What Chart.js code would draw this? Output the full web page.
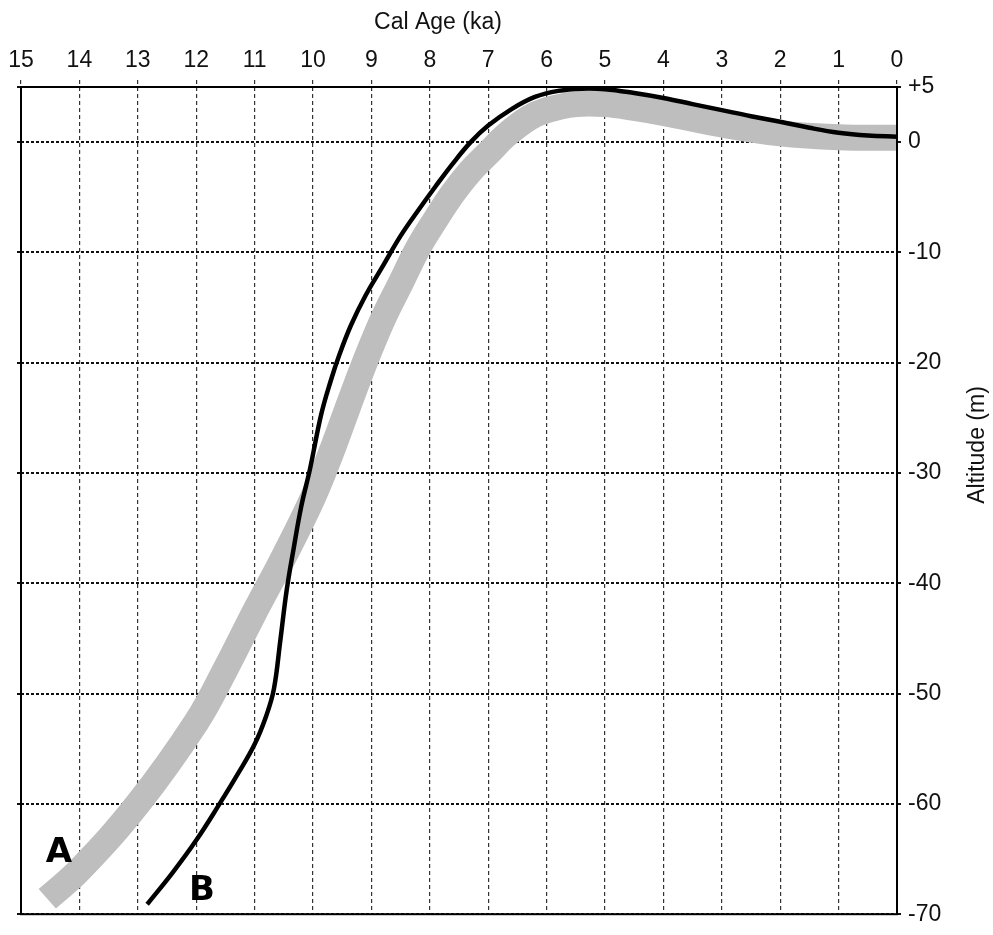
<!DOCTYPE html>
<html><head><meta charset="utf-8">
<script src="https://cdn.jsdelivr.net/npm/chart.js@4.4.1/dist/chart.umd.min.js"></script>
<style>html,body{margin:0;padding:0;background:#fff;}canvas{display:block;}</style>
</head><body>
<canvas id="c" width="993" height="935"></canvas>
<script>
// ---- data ----
const xTickValues = [15,14,13,12,11,10,9,8,7,6,5,4,3,2,1,0];
const yTickValues = [5,0,-10,-20,-30,-40,-50,-60,-70];
const curveA_age = [14.55,14.0,13.0,12.0,11.5,11.0,10.5,10.0,9.7,9.4,9.1,8.8,8.5,8.2,7.9,7.6,7.3,7.0,6.7,6.3,6.0,5.5,5.0,4.5,4.0,3.0,2.0,1.0,0.0];
const curveA_alt = [-68.6,-66.0,-60.0,-52.6,-47.8,-42.6,-37.6,-32.2,-28.3,-24.0,-19.8,-16.0,-12.8,-9.6,-7.0,-4.6,-2.6,-1.0,0.6,2.2,2.9,3.45,3.45,3.1,2.65,1.6,0.8,0.45,0.4];
const curveB_age = [12.84,12.4,12.0,11.6,11.3,11.0,10.8,10.67,10.56,10.45,10.33,10.2,10.05,9.86,9.7,9.55,9.35,9.1,8.8,8.5,8.2,7.9,7.6,7.3,7.0,6.6,6.2,5.8,5.4,5.0,4.5,4.0,3.5,3.0,2.5,2.0,1.5,1.0,0.5,0.0];
const curveB_alt = [-69.1,-66.2,-63.3,-60.0,-57.4,-54.6,-52.0,-49.6,-45.2,-40.6,-36.8,-33.0,-29.6,-24.7,-21.7,-19.3,-16.6,-13.9,-11.2,-8.5,-6.2,-4.0,-1.9,0.0,1.5,3.0,4.1,4.65,4.85,4.8,4.45,4.0,3.45,2.9,2.35,1.85,1.3,0.85,0.6,0.5];
const curveLabels = ['A','B'];
const curveLabelAge = [14.35, 11.9];
const curveLabelAlt = [-64.5, -67.9];
const xAxisTitle = 'Cal Age (ka)';
const yAxisTitle = 'Altitude (m)';

const toPts = (xs, ys) => xs.map((x, i) => ({x: x, y: ys[i]}));

Chart.defaults.font.family = '"Liberation Sans", Arial, sans-serif';
Chart.defaults.color = '#111';

const frameAndText = {
  id: 'frameAndText',
  afterDraw(chart) {
    const ctx = chart.ctx, a = chart.chartArea;
    ctx.save();
    ctx.strokeStyle = '#000';
    ctx.lineWidth = 2;
    ctx.strokeRect(a.left, a.top, a.right - a.left, a.bottom - a.top);
    ctx.fillStyle = '#111';
    ctx.font = '23px "Liberation Sans", Arial, sans-serif';
    ctx.textAlign = 'center';
    ctx.textBaseline = 'middle';
    ctx.fillText(xAxisTitle, 438, 23);
    ctx.translate(978, 445);
    ctx.rotate(-Math.PI / 2);
    ctx.fillText(yAxisTitle, 0, 0);
    ctx.restore();
    ctx.save();
    ctx.fillStyle = '#000';
    ctx.font = 'bold 34px "DejaVu Sans", sans-serif';
    ctx.textAlign = 'center';
    ctx.textBaseline = 'middle';
    const xs = chart.scales.x, ys = chart.scales.y;
    curveLabels.forEach((t, i) => {
      ctx.fillText(t, xs.getPixelForValue(curveLabelAge[i]), ys.getPixelForValue(curveLabelAlt[i]));
    });
    ctx.restore();
  }
};

const setTicks = (vals) => (scale) => { scale.ticks = vals.map(v => ({value: v})); };

new Chart(document.getElementById('c'), {
  type: 'line',
  data: {
    datasets: [
      {
        label: 'B',
        data: toPts(curveB_age, curveB_alt),
        borderColor: '#000',
        borderWidth: 4.5,
        pointRadius: 0,
        tension: 0.4,
        borderCapStyle: 'butt',
        fill: false,
        clip: false
      },
      {
        label: 'A',
        data: toPts(curveA_age, curveA_alt),
        borderColor: '#bebebe',
        borderWidth: 26,
        pointRadius: 0,
        tension: 0.4,
        borderCapStyle: 'butt',
        borderJoinStyle: 'round',
        fill: false,
        clip: 0
      }
    ]
  },
  options: {
    responsive: false,
    animation: false,
    devicePixelRatio: 1,
    layout: {padding: {left: 17, right: 0, top: 0, bottom: 16}},
    plugins: {legend: {display: false}, tooltip: {enabled: false}},
    scales: {
      x: {
        type: 'linear', position: 'top', min: 0, max: 15, reverse: true, z: 1,
        afterBuildTicks: setTicks(xTickValues),
        afterFit: (s) => { s.height = 87; },
        ticks: {font: {size: 23}, color: '#111', padding: 6, maxRotation: 0, autoSkip: false},
        grid: {color: '#333', lineWidth: 1.2, tickLength: 7, tickColor: '#333', tickBorderDash: [4, 3]},
        border: {display: false, dash: [4, 3]}
      },
      y: {
        type: 'linear', position: 'right', min: -70, max: 5, z: 1,
        afterBuildTicks: setTicks(yTickValues),
        afterFit: (s) => { s.width = 96; },
        ticks: {font: {size: 23}, color: '#111', padding: 7, callback: (v) => v > 0 ? '+' + v : '' + v},
        grid: {color: '#111', lineWidth: 2, tickLength: 4, tickColor: '#111'},
        border: {display: false, dash: [3, 2]}
      },
      yl: {
        type: 'linear', position: 'left', min: -70, max: 5,
        afterBuildTicks: setTicks(yTickValues),
        afterFit: (s) => { s.width = 4; },
        ticks: {display: false},
        grid: {drawOnChartArea: false, tickLength: 4, tickColor: '#111', lineWidth: 2},
        border: {display: false}
      }
    }
  },
  plugins: [frameAndText]
});
</script>
</body></html>
